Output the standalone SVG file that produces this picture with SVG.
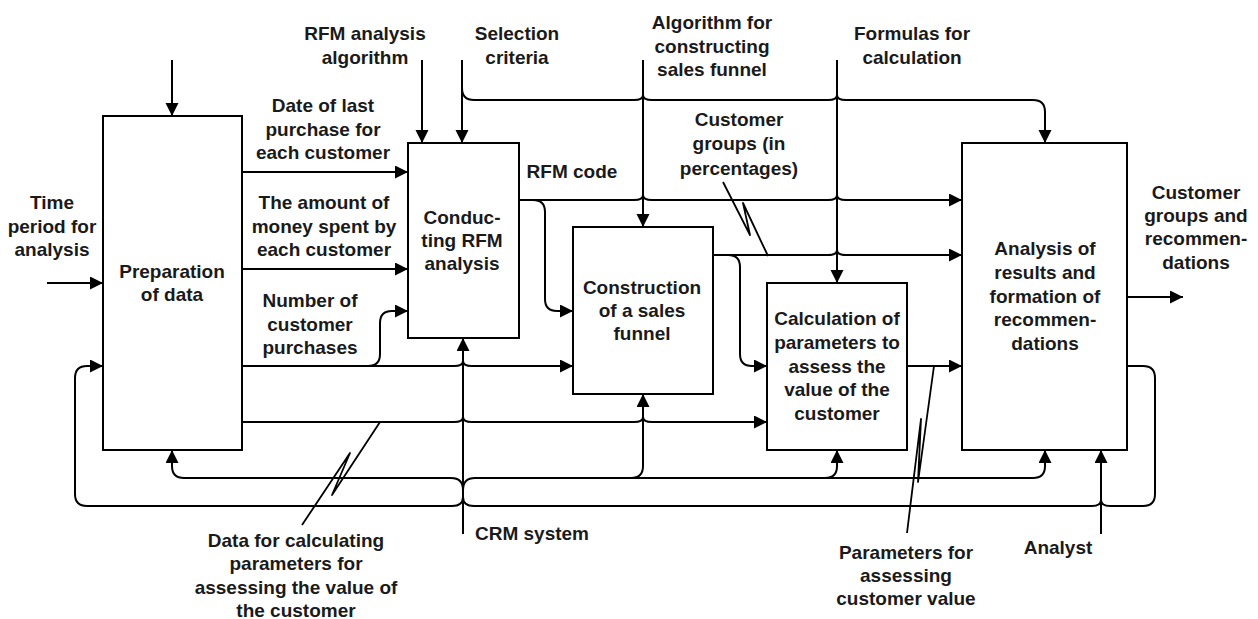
<svg xmlns="http://www.w3.org/2000/svg" width="1258" height="619" viewBox="0 0 1258 619">
<style>
.box{fill:#fff;stroke:#000;stroke-width:2}
.c{fill:none;stroke:#000;stroke-width:2}
.a{marker-end:url(#arr)}
.p{fill:none;stroke:#000;stroke-width:1.8;stroke-linejoin:round}
text{font-family:"Liberation Sans",Arial,sans-serif;font-weight:bold;font-size:19px;fill:#1a1a1a;text-anchor:middle}
</style>
<defs>
<marker id="arr" markerUnits="userSpaceOnUse" markerWidth="14" markerHeight="14" refX="13" refY="6.5" orient="auto">
<path d="M0,0 L13,6.5 L0,13 z" fill="#000"/>
</marker>
</defs>
<rect width="1258" height="619" fill="#fff"/>
<g id="connectors">
<path class="c a" d="M172,60 L172,116"/>
<path class="c a" d="M422,60 L422,143"/>
<path class="c a" d="M462,60 L462,143"/>
<path class="c a" d="M643,60 L643,227"/>
<path class="c a" d="M837,60 L837,283"/>
<path class="c a" d="M462,88 Q462,100 474,100 L634,100 Q643,100 643,95 Q643,100 652,100 L828,100 Q837,100 837,95 Q837,100 846,100 L1033,100 Q1045,100 1045,112 L1045,143"/>
<path class="c a" d="M47,283 L103,283"/>
<path class="c a" d="M242,172 L408,172"/>
<path class="c a" d="M242,269 L408,269"/>
<path class="c a" d="M242,366 L454,366 Q463,366 463,361 Q463,366 472,366 L573,366"/>
<path class="c a" d="M368,366 Q380,366 380,354 L380,323 Q380,311 392,311 L408,311"/>
<path class="c a" d="M242,422 L454,422 Q463,422 463,417 Q463,422 472,422 L634,422 Q643,422 643,417 Q643,422 652,422 L767,422"/>
<path class="c a" d="M519,200 L634,200 Q643,200 643,195 Q643,200 652,200 L828,200 Q837,200 837,195 Q837,200 846,200 L962,200"/>
<path class="c a" d="M533,200 Q545,200 545,212 L545,299 Q545,311 557,311 L573,311"/>
<path class="c a" d="M713,255 L828,255 Q837,255 837,250 Q837,255 846,255 L962,255"/>
<path class="c a" d="M728,255 Q740,255 740,267 L740,354 Q740,366 752,366 L767,366"/>
<path class="c a" d="M907,366 L962,366"/>
<path class="c a" d="M1127,297 L1183,297"/>
<path class="c a" d="M463,534 L463,338"/>
<path class="c a" d="M463,490 Q463,478 451,478 L184,478 Q172,478 172,466 L172,450"/>
<path class="c a" d="M463,490 Q463,478 475,478 L1033,478 Q1045,478 1045,466 L1045,450"/>
<path class="c a" d="M631,478 Q643,478 643,466 L643,394"/>
<path class="c a" d="M825,478 Q837,478 837,466 L837,450"/>
<path class="c a" d="M1127,366 L1143,366 Q1155,366 1155,378 L1155,494 Q1155,506 1143,506 L1110,506 Q1101,506 1101,500 Q1101,506 1092,506 L474,506 Q463,506 463,497 Q463,506 452,506 L87,506 Q75,506 75,494 L75,378 Q75,366 87,366 L103,366"/>
<path class="c a" d="M1101,534 L1101,450"/>
<path class="p" d="M380,422 L332,495 L350,453 L302,525"/>
<path class="p" d="M723,182 L750,235 L743,203 L768,256"/>
<path class="p" d="M934,366 L918,482 L921,419 L907,533"/>
</g>
<g id="node-prep">
<rect class="box" x="103" y="116" width="139" height="334"/>
<text x="172" y="278">Preparation</text>
<text x="172" y="301">of data</text>
</g>
<g id="node-rfm">
<rect class="box" x="408" y="143" width="111" height="195"/>
<text x="462" y="224">Conduc-</text>
<text x="462" y="247">ting RFM</text>
<text x="462" y="270">analysis</text>
</g>
<g id="node-funnel">
<rect class="box" x="573" y="227" width="140" height="167"/>
<text x="642" y="294">Construction</text>
<text x="642" y="317">of a sales</text>
<text x="642" y="340">funnel</text>
</g>
<g id="node-calc">
<rect class="box" x="767" y="283" width="140" height="167"/>
<text x="837" y="325">Calculation of</text>
<text x="837" y="349">parameters to</text>
<text x="837" y="373">assess the</text>
<text x="837" y="396">value of the</text>
<text x="837" y="420">customer</text>
</g>
<g id="node-analysis">
<rect class="box" x="962" y="143" width="165" height="307"/>
<text x="1045" y="255">Analysis of</text>
<text x="1045" y="279">results and</text>
<text x="1045" y="303">formation of</text>
<text x="1045" y="326">recommen-</text>
<text x="1045" y="350">dations</text>
</g>
<g id="labels">
<text x="365" y="40">RFM analysis</text>
<text x="365" y="64">algorithm</text>
<text x="517" y="40">Selection</text>
<text x="517" y="64">criteria</text>
<text x="712" y="29">Algorithm for</text>
<text x="712" y="53">constructing</text>
<text x="712" y="76">sales funnel</text>
<text x="912" y="40">Formulas for</text>
<text x="912" y="64">calculation</text>
<text x="323" y="112">Date of last</text>
<text x="323" y="136">purchase for</text>
<text x="323" y="159">each customer</text>
<text x="52" y="209">Time</text>
<text x="52" y="233">period for</text>
<text x="52" y="256">analysis</text>
<text x="324" y="209">The amount of</text>
<text x="324" y="233">money spent by</text>
<text x="324" y="256">each customer</text>
<text x="310" y="307">Number of</text>
<text x="310" y="331">customer</text>
<text x="310" y="354">purchases</text>
<text x="572" y="178">RFM code</text>
<text x="739" y="126">Customer</text>
<text x="739" y="150">groups (in</text>
<text x="739" y="175">percentages)</text>
<text x="1196" y="199">Customer</text>
<text x="1196" y="222">groups and</text>
<text x="1196" y="245">recommen-</text>
<text x="1196" y="269">dations</text>
<text x="296" y="547">Data for calculating</text>
<text x="296" y="570">parameters for</text>
<text x="296" y="594">assessing the value of</text>
<text x="296" y="617">the customer</text>
<text x="532" y="540">CRM system</text>
<text x="906" y="559">Parameters for</text>
<text x="906" y="582">assessing</text>
<text x="906" y="605">customer value</text>
<text x="1058" y="554">Analyst</text>
</g>
</svg>
